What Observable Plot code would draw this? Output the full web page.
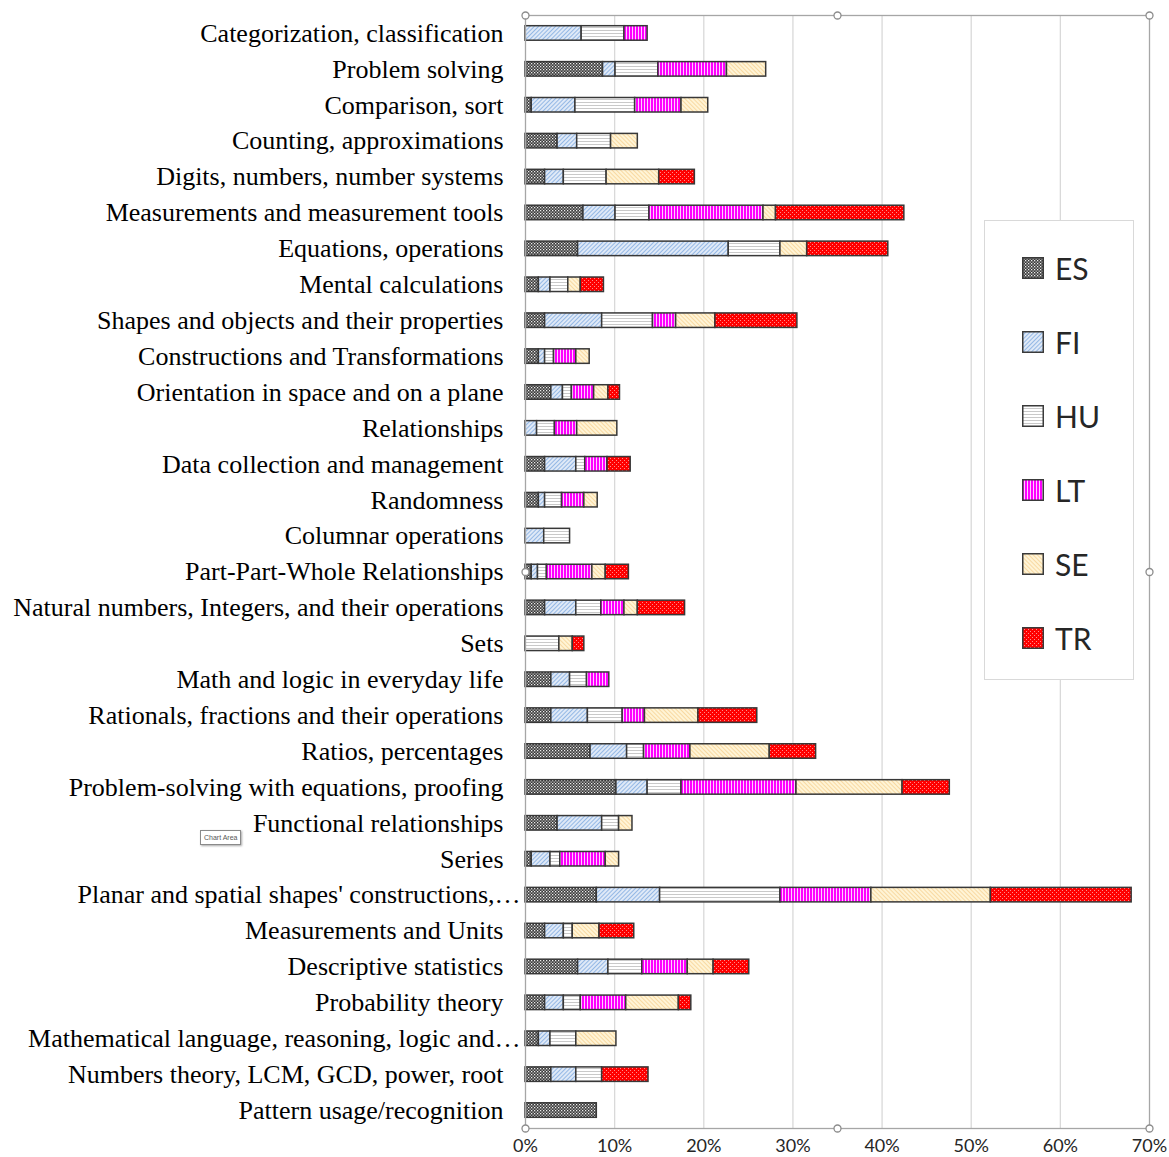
<!DOCTYPE html>
<html>
<head>
<meta charset="utf-8">
<script src="https://cdn.jsdelivr.net/npm/d3@7"></script>
<script src="https://cdn.jsdelivr.net/npm/@observablehq/plot@0.6"></script>
<style>
  body { margin: 0; background: #fff; }
  #wrap { position: relative; width: 1169px; height: 1157px; overflow: hidden; background: #fff; }
  #legend { position: absolute; left: 984px; top: 220px; width: 150px; height: 460px; border: 1px solid #d9d9d9; background: #fff; box-sizing: border-box; }
  .entry { position: absolute; left: 37px; height: 30px; display: flex; align-items: center; font-family: Lato, "Liberation Sans", sans-serif; font-size: 30px; color: #262626; }
  .entry svg { margin-right: 11px; }
  #tip { position: absolute; left: 200px; top: 830px; padding: 0 3px; height: 13px; line-height: 13px; font-family: "Liberation Sans", sans-serif; font-size: 7px; color: #575757; background: #fff; border: 1px solid #8a8a8a; box-shadow: 1px 1px 2px rgba(0,0,0,0.35); }
</style>
</head>
<body>
<div id="wrap"></div>
<script>
const categories = [
  "Categorization, classification",
  "Problem solving",
  "Comparison, sort",
  "Counting, approximations",
  "Digits, numbers, number systems",
  "Measurements and measurement tools",
  "Equations, operations",
  "Mental calculations",
  "Shapes and objects and their properties",
  "Constructions and Transformations",
  "Orientation in space and on a plane",
  "Relationships",
  "Data collection and management",
  "Randomness",
  "Columnar operations",
  "Part-Part-Whole Relationships",
  "Natural numbers, Integers, and their operations",
  "Sets",
  "Math and logic in everyday life",
  "Rationals, fractions and their operations",
  "Ratios, percentages",
  "Problem-solving with equations, proofing",
  "Functional relationships",
  "Series",
  "Planar and spatial shapes' constructions,\u2026",
  "Measurements and Units",
  "Descriptive statistics",
  "Probability theory",
  "Mathematical language, reasoning, logic and\u2026",
  "Numbers theory, LCM, GCD, power, root",
  "Pattern usage/recognition"
];

const seriesNames = ["ES", "FI", "HU", "LT", "SE", "TR"];

// values in percent, one per category (same order as categories)
const ES = [0, 8.7, 0.7, 3.6, 2.2, 6.5, 5.9, 1.5, 2.2, 1.5, 2.9, 0, 2.2, 1.5, 0, 0.7, 2.2, 0, 2.9, 2.9, 7.3, 10.2, 3.6, 0.7, 8.0, 2.2, 5.9, 2.2, 1.5, 2.9, 8.0];
const FI = [6.3, 1.4, 4.9, 2.2, 2.1, 3.6, 16.9, 1.3, 6.4, 0.7, 1.3, 1.3, 3.5, 0.7, 2.1, 0.7, 3.5, 0, 2.1, 4.1, 4.1, 3.5, 5.0, 2.1, 7.1, 2.1, 3.4, 2.1, 1.3, 2.8, 0];
const HU = [4.8, 4.8, 6.7, 3.8, 4.8, 3.8, 5.8, 2.0, 5.7, 1.0, 1.0, 2.0, 1.0, 1.9, 2.9, 1.0, 2.8, 3.8, 1.9, 3.9, 1.9, 3.8, 1.9, 1.1, 13.5, 1.0, 3.8, 1.9, 2.9, 2.9, 0];
const LT = [2.6, 7.7, 5.2, 0, 0, 12.8, 0, 0, 2.6, 2.5, 2.5, 2.5, 2.5, 2.5, 0, 5.1, 2.6, 0, 2.5, 2.5, 5.2, 12.9, 0, 5.1, 10.2, 0, 5.1, 5.1, 0, 0, 0];
const SE = [0, 4.4, 3.0, 3.0, 5.9, 1.4, 3.0, 1.4, 4.4, 1.5, 1.6, 4.5, 0, 1.5, 0, 1.5, 1.5, 1.5, 0, 6.0, 8.9, 11.9, 1.5, 1.5, 13.4, 3.0, 2.9, 5.9, 4.5, 0, 0];
const TR = [0, 0, 0, 0, 4.0, 14.4, 9.1, 2.6, 9.2, 0, 1.3, 0, 2.6, 0, 0, 2.6, 5.3, 1.3, 0, 6.6, 5.2, 5.3, 0, 0, 15.8, 3.9, 4.0, 1.4, 0, 5.2, 0];

const tickValues = [0, 10, 20, 30, 40, 50, 60, 70];
const tickLabels = ["0%", "10%", "20%", "30%", "40%", "50%", "60%", "70%"];

const seriesValues = {ES, FI, HU, LT, SE, TR};
const table = [];
seriesNames.forEach(s => {
  categories.forEach((c, i) => {
    const v = seriesValues[s][i];
    if (v > 0) table.push({category: c, series: s, value: v});
  });
});

const truncated = categories.filter(c => c.endsWith("\u2026"));
const regular = categories.filter(c => !c.endsWith("\u2026"));
const handleAnchors = ["top-left", "top", "top-right", "right", "bottom-right", "bottom", "bottom-left", "left"];
const yFont = "'Liberation Serif', 'Times New Roman', serif";

const chart = Plot.plot({
  width: 1169,
  height: 1157,
  marginLeft: 525,
  marginRight: 20,
  marginTop: 15,
  marginBottom: 29,
  style: {background: "transparent", overflow: "visible"},
  x: {domain: [0, 70], ticks: tickValues},
  y: {domain: categories, padding: 0, round: false},
  color: {domain: seriesNames, range: seriesNames.map(s => `url(#pat-${s})`)},
  marks: [
    Plot.gridX(tickValues.slice(1, -1), {stroke: "#d9d9d9", strokeOpacity: 1, strokeWidth: 1.3}),
    Plot.barX(table, {x: "value", y: "category", fill: "series", stroke: "#383838", strokeWidth: 1.5, insetTop: 10.7, insetBottom: 10.7}),
    Plot.frame({stroke: "#a6a6a6", strokeWidth: 1.3}),
    Plot.axisX({ticks: tickValues, tickFormat: d => tickLabels[tickValues.indexOf(d)], tickSize: 0, tickPadding: 11, fontSize: 18, fontFamily: "Lato, 'Liberation Sans', sans-serif", fill: "#262626", label: null}),
    Plot.axisY({ticks: regular, tickSize: 0, tickPadding: 22, fontSize: 26, fontFamily: yFont, fill: "#000", label: null}),
    Plot.axisY({ticks: truncated, tickSize: 0, tickPadding: 5, fontSize: 26, fontFamily: yFont, fill: "#000", label: null}),
    ...handleAnchors.map(a => Plot.dot([0], {frameAnchor: a, r: 3.5, fill: "#fff", stroke: "#8c8c8c", strokeWidth: 1.3}))
  ]
});

const patternDefs = `
<pattern id="pat-ES" width="3" height="3" patternUnits="userSpaceOnUse">
  <rect width="3" height="3" fill="#3a3a3a"/><rect x="0" y="0" width="1.3" height="1.3" fill="#eeeeee"/><rect x="1.5" y="1.5" width="1.3" height="1.3" fill="#c4c4c4"/>
</pattern>
<pattern id="pat-FI" width="3" height="3" patternUnits="userSpaceOnUse" patternTransform="rotate(45)">
  <rect width="3" height="3" fill="#dfe9f7"/><rect width="1" height="3" fill="#94b8e5"/>
</pattern>
<pattern id="pat-HU" width="4" height="3" patternUnits="userSpaceOnUse">
  <rect width="4" height="3" fill="#ffffff"/><rect y="0" width="4" height="1" fill="#c9c9c9"/>
</pattern>
<pattern id="pat-LT" width="3" height="4" patternUnits="userSpaceOnUse">
  <rect width="3" height="4" fill="#ff00ff"/><rect x="2" width="1" height="4" fill="#ffccff"/>
</pattern>
<pattern id="pat-SE" width="3" height="3" patternUnits="userSpaceOnUse" patternTransform="rotate(-45)">
  <rect width="3" height="3" fill="#fff4d6"/><rect width="1" height="3" fill="#f8d9a2"/>
</pattern>
<pattern id="pat-TR" width="4" height="4" patternUnits="userSpaceOnUse">
  <rect width="4" height="4" fill="#ff0000"/><rect x="0" y="0" width="1" height="1" fill="#ff8c8c"/><rect x="2" y="2" width="1" height="1" fill="#ff8c8c"/>
</pattern>`;

const defs = document.createElementNS("http://www.w3.org/2000/svg", "defs");
defs.innerHTML = patternDefs;
chart.insertBefore(defs, chart.firstChild);

const wrap = document.getElementById("wrap");
wrap.appendChild(chart);

// legend
const legend = document.createElement("div");
legend.id = "legend";
seriesNames.forEach((s, i) => {
  const e = document.createElement("div");
  e.className = "entry";
  e.style.top = (32 + i * 74) + "px";
  e.innerHTML = `<svg width="22" height="22"><rect x="0.75" y="0.75" width="20.5" height="20.5" fill="url(#pat-${s})" stroke="#3a3a3a" stroke-width="1.5"/></svg><span>${s}</span>`;
  legend.appendChild(e);
});
wrap.appendChild(legend);

const tip = document.createElement("div");
tip.id = "tip";
tip.textContent = "Chart Area";
wrap.appendChild(tip);
</script>
</body>
</html>
